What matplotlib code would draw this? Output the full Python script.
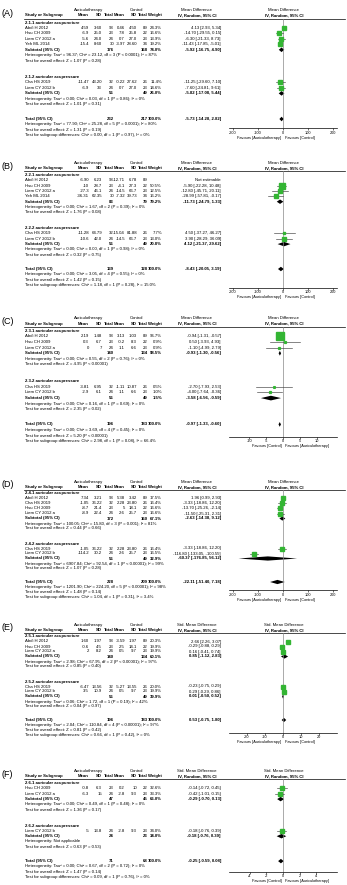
import numpy as np
import matplotlib.pyplot as plt

plt.rcParams['font.family'] = ['Liberation Sans', 'DejaVu Sans']

W, H = 347, 885
FS = 3.1
GREEN = '#33b533'
X0 = 25  # left edge of the study column

# ---------------- data ----------------
# study rows: name, mean1, sd1, n1, mean2, sd2, n2, weight, est, lo, hi
A_titles = ["2.1.1 auricular acupuncture", "2.1.2 auricular acupressure"]
A_g1 = [("Abdi H 2012", "4.59", "3.60", "93", "0.46", "4.50", "89", 24.3, 4.13, 2.93, 5.34),
        ("Hsu CH 2009", "-6.9", "25.0", "23", "7.8", "25.8", "22", 16.6, -14.70, -29.55, 0.15),
        ("Liem CY 2012 a", "-5.6", "24.0", "24", "0.7", "27.0", "23", 13.9, -6.30, -21.33, 8.73),
        ("Yeh ML 2014", "-15.4", "8.60", "30", "-3.97", "28.60", "34", 19.2, -11.43, -17.85, -5.01)]
A_g2 = [("Cha HS 2019", "-11.47", "43.20", "32", "-0.22", "27.62", "26", 11.4, -11.25, -29.60, 7.10),
        ("Liem CY 2012 b", "-6.9", "33", "24", "0.7", "27.0", "23", 14.6, -7.60, -24.81, 9.61)]
A_sub = [("176", "168", 74.0, -5.92, -16.75, 4.90), ("56", "49", 26.0, -5.82, -17.08, 5.44)]
A_tot = ("232", "217", 100.0, -5.73, -14.28, 2.82)
A_het = ["Heterogeneity: Tau² = 96.37; Chi² = 23.12, df = 3 (P < 0.0001); I² = 87%",
         "Heterogeneity: Tau² = 0.00; Chi² = 0.03, df = 1 (P = 0.86); I² = 0%",
         "Heterogeneity: Tau² = 77.90; Chi² = 25.28, df = 5 (P = 0.0001); I² = 80%"]
A_z = ["Test for overall effect: Z = 1.07 (P = 0.28)",
       "Test for overall effect: Z = 1.01 (P = 0.31)",
       "Test for overall effect: Z = 1.31 (P = 0.19)"]
A_diff = "Test for subgroup differences: Chi² = 0.00, df = 1 (P = 0.97), I² = 0%"

B_titles = ["2.2.1 auricular acupuncture", "2.2.2 auricular acupressure"]
B_g1 = [("Abdi H 2012", "-6.90", "6.23", "93", "-12.71", "6.78", "89", None, None, None, None),
        ("Hsu CH 2009", "-10", "28.7", "23", "-4.1", "27.3", "22", 50.5, -5.90, -22.28, 10.48),
        ("Liem CY 2012 a", "-27.3", "46.1", "24", "-14.5", "66.7", "23", 12.5, -12.80, -45.71, 20.11),
        ("Yeh ML 2014", "-36.31", "62.35", "30", "-7.32", "39.73", "34", 16.2, -28.99, -57.81, -0.17)]
B_g2 = [("Cha HS 2019", "-11.28", "64.79", "32", "-15.04", "81.88", "26", 7.7, 4.50, -37.27, 46.27),
        ("Liem CY 2012 b", "-10.6", "42.0", "24", "-14.5", "66.7", "23", 13.0, 3.90, -28.29, 36.09)]
B_sub = [("83", "79", 79.2, -11.73, -24.79, 1.33), ("56", "49", 20.8, 4.12, -21.37, 29.62)]
B_tot = ("139", "128", 100.0, -8.43, -20.05, 3.19)
B_het = ["Heterogeneity: Tau² = 0.00; Chi² = 1.67, df = 2 (P = 0.39); I² = 0%",
         "Heterogeneity: Tau² = 0.00; Chi² = 0.00, df = 1 (P = 0.98); I² = 0%",
         "Heterogeneity: Tau² = 0.00; Chi² = 3.05, df = 4 (P = 0.55); I² = 0%"]
B_z = ["Test for overall effect: Z = 1.76 (P = 0.08)",
       "Test for overall effect: Z = 0.32 (P = 0.75)",
       "Test for overall effect: Z = 1.42 (P = 0.15)"]
B_diff = "Test for subgroup differences: Chi² = 1.18, df = 1 (P = 0.28), I² = 15.0%"

C_titles = ["2.3.1 auricular acupuncture", "2.3.2 auricular acupressure"]
C_g1 = [("Abdi H 2012", "2.19", "1.48", "93", "3.13", "1.03", "89", 96.7, -0.94, -1.31, -0.57),
        ("Hsu CH 2009", "0.3", "6.7", "23", "-0.2", "8.3", "22", 0.9, 0.50, -3.93, 4.93),
        ("Liem CY 2012 a", "0", "7", "24", "1.1", "6.6", "23", 0.9, -1.10, -4.99, 2.79)]
C_g2 = [("Cha HS 2019", "-3.81", "6.95", "32", "-1.11", "10.87", "26", 0.5, -2.70, -7.93, 2.53),
        ("Liem CY 2012 b", "-2.9", "6.1", "24", "1.1", "6.6", "23", 1.0, -4.00, -7.64, -0.36)]
C_sub = [("140", "134", 98.5, -0.93, -1.30, -0.56), ("56", "49", 1.5, -3.58, -6.56, -0.59)]
C_tot = ("196", "183", 100.0, -0.97, -1.33, -0.60)
C_het = ["Heterogeneity: Tau² = 0.00; Chi² = 0.55, df = 2 (P = 0.76); I² = 0%",
         "Heterogeneity: Tau² = 0.00; Chi² = 0.16, df = 1 (P = 0.69); I² = 0%",
         "Heterogeneity: Tau² = 0.00; Chi² = 3.69, df = 4 (P = 0.45); I² = 0%"]
C_z = ["Test for overall effect: Z = 4.95 (P < 0.00001)",
       "Test for overall effect: Z = 2.35 (P = 0.02)",
       "Test for overall effect: Z = 5.20 (P < 0.00001)"]
C_diff = "Test for subgroup differences: Chi² = 2.98, df = 1 (P = 0.08), I² = 66.4%"

D_titles = ["2.4.1 auricular acupuncture", "2.4.2 auricular acupressure"]
D_g1 = [("Abdi H 2012", "7.34", "3.21", "93", "5.38", "3.42", "89", 17.5, 1.96, 0.99, 2.93),
        ("Cha HS 2019", "-1.05", "36.22", "32", "2.28", "23.80", "26", 16.4, -3.33, -18.86, 12.20),
        ("Hsu CH 2009", "-8.7", "21.4", "23", "5", "18.1", "22", 16.6, -13.70, -25.26, -2.14),
        ("Liem CY 2012 a", "-8.9", "22.4", "24", "2.6", "25.7", "23", 16.6, -11.50, -25.31, 2.31)]
D_g2 = [("Cha HS 2019", "-1.05", "36.22", "32", "2.28", "23.80", "26", 16.4, -3.33, -18.86, 12.20),
        ("Liem CY 2012 b", "-114.2", "30.2", "24", "2.6", "25.7", "23", 16.5, -116.80, -133.05, -100.55)]
D_sub = [("172", "160", 67.1, -2.63, -14.38, 9.12), ("56", "49", 32.9, -60.37, -176.85, 56.12)]
D_tot = ("228", "209", 100.0, -22.11, -51.40, 7.18)
D_het = ["Heterogeneity: Tau² = 100.05; Chi² = 15.80, df = 3 (P = 0.001); I² = 81%",
         "Heterogeneity: Tau² = 6907.84; Chi² = 92.54, df = 1 (P < 0.00001); I² = 99%",
         "Heterogeneity: Tau² = 1201.90; Chi² = 224.20, df = 5 (P < 0.00001); I² = 98%"]
D_z = ["Test for overall effect: Z = 0.44 (P = 0.66)",
       "Test for overall effect: Z = 1.07 (P = 0.28)",
       "Test for overall effect: Z = 1.48 (P = 0.14)"]
D_diff = "Test for subgroup differences: Chi² = 1.04, df = 1 (P = 0.31), I² = 3.4%"

E_titles = ["2.5.1 auricular acupuncture", "2.5.2 auricular acupressure"]
E_g1 = [("Abdi H 2012", "1.60", "1.97", "93", "-3.59", "1.97", "89", 20.3, 2.66, 2.26, 3.07),
        ("Hsu CH 2009", "-0.6", "4.5", "23", "2.5", "14.1", "22", 19.9, -0.29, -0.88, 0.29),
        ("Liem CY 2012 a", "2", "8.2", "24", "0.5", "9.7", "23", 19.9, 0.16, -0.41, 0.74)]
E_g2 = [("Cha HS 2019", "-6.47", "13.56", "32", "-5.27", "13.55", "26", 20.0, -0.23, -0.75, 0.29),
        ("Liem CY 2012 b", "3.5", "10.9", "24", "0.5", "9.7", "23", 19.9, 0.29, -0.29, 0.86)]
E_sub = [("140", "134", 60.1, 0.85, -1.12, 2.83), ("56", "49", 39.9, 0.01, -0.50, 0.52)]
E_tot = ("196", "183", 100.0, 0.53, -0.75, 1.80)
E_het = ["Heterogeneity: Tau² = 2.98; Chi² = 67.95, df = 2 (P < 0.00001); I² = 97%",
         "Heterogeneity: Tau² = 0.06; Chi² = 1.72, df = 1 (P = 0.19); I² = 42%",
         "Heterogeneity: Tau² = 2.04; Chi² = 110.84, df = 4 (P < 0.00001); I² = 97%"]
E_z = ["Test for overall effect: Z = 0.85 (P = 0.40)",
       "Test for overall effect: Z = 0.04 (P = 0.97)",
       "Test for overall effect: Z = 0.81 (P = 0.42)"]
E_diff = "Test for subgroup differences: Chi² = 0.66, df = 1 (P = 0.42), I² = 0%"

F_titles = ["2.6.1 auricular acupuncture", "2.6.2 auricular acupressure"]
F_g1 = [("Hsu CH 2009", "-0.8", "6.3", "23", "0.2", "10", "22", 32.6, -0.14, -0.72, 0.45),
        ("Liem CY 2012 a", "-6.3", "15", "24", "-2.8", "9.3", "23", 33.3, -0.42, -1.01, 0.15)]
F_g2 = [("Liem CY 2012 b", "-5", "13.8", "24", "-2.8", "9.3", "23", 34.0, -0.18, -0.76, 0.39)]
F_sub = [("47", "45", 66.0, -0.29, -0.70, 0.13), ("24", "23", 34.0, -0.18, -0.76, 0.39)]
F_tot = ("71", "68", 100.0, -0.25, -0.59, 0.08)
F_het = ["Heterogeneity: Tau² = 0.00; Chi² = 0.49, df = 1 (P = 0.48); I² = 0%",
         "Heterogeneity: Not applicable",
         "Heterogeneity: Tau² = 0.00; Chi² = 0.67, df = 2 (P = 0.72); I² = 0%"]
F_z = ["Test for overall effect: Z = 1.36 (P = 0.17)",
       "Test for overall effect: Z = 0.63 (P = 0.53)",
       "Test for overall effect: Z = 1.47 (P = 0.14)"]
F_diff = "Test for subgroup differences: Chi² = 0.09, df = 1 (P = 0.76), I² = 0%"

FAV_AC = ("Favours [Auriculotherapy]", "Favours [Control]")
FAV_CA = ("Favours [Control]", "Favours [Auriculotherapy]")

fig = plt.figure(figsize=(W / 100, H / 100), dpi=100)


def box(x0, x1, y0, step, r_top, r_bot):
    top = y0 + r_top * step
    bot = y0 + r_bot * step
    ax = fig.add_axes([x0 / W, 1 - bot / H, (x1 - x0) / W, (bot - top) / H])
    ax.set_ylim(r_bot, r_top)
    return ax


def ci_txt(e, lo, hi):
    if e is None:
        return "Not estimable"
    return f"{e:.2f} [{lo:.2f}, {hi:.2f}]"


def draw_panel(label, y0, step, titles, groups, subs, tot, het, zs, diff,
               head, lim, ticks, fav, axis_off):
    # row layout
    r = 2.3
    layout = []
    for g in groups:
        title_r = r
        st = [r + 1 + i for i in range(len(g))]
        sub_r = r + 1 + len(g)
        layout.append((title_r, st, sub_r))
        r = sub_r + 2 + 3
    tot_r = r - 3 + 2.7
    last_r = tot_r + 3
    axis_r = tot_r + axis_off

    ax = box(0, W, y0, step, -2.5, last_r + 1.5)
    ax.set_xlim(0, W)
    ax.axis('off')

    def t(x, y, s, ha='left', bold=False, size=FS):
        ax.text(x, y, s, ha=ha, va='center', fontsize=size,
                fontweight='bold' if bold else 'normal')

    ax.text(2, 0.6, label, ha='left', va='center', fontsize=6.5)
    cols = [89, 102, 114, 125, 137, 148, 162]
    t(89, 0, "Auriculotherapy", 'center')
    t(136, 0, "Control", 'center')
    t(197, 0, head, 'center')
    t(284, 0, head, 'center')
    t(X0, 1, "Study or Subgroup", bold=True)
    for x, s in zip(cols, ["Mean", "SD", "Total", "Mean", "SD", "Total", "Weight"]):
        t(x, 1, s, 'right', bold=True)
    t(197, 1, "IV, Random, 95% CI", 'center', bold=True)
    t(284, 1, "IV, Random, 95% CI", 'center', bold=True)
    ax.plot([X0 - 1, 345], [1.6, 1.6], color='black', lw=0.5)

    fx = box(229, 337, y0, step, 1.6, axis_r)
    fx.set_xlim(-lim, lim)
    fx.set_facecolor('none')
    for sp in ['top', 'left', 'right']:
        fx.spines[sp].set_visible(False)
    fx.spines['bottom'].set_linewidth(0.5)
    fx.set_yticks([])
    fx.set_xticks(ticks)
    fx.set_xticklabels([f"{v:g}" for v in ticks], fontsize=2.8)
    fx.tick_params(axis='x', length=1.2, width=0.4, pad=0.8)
    fx.axvline(0, color='#888888', lw=0.5)
    fx.annotate(fav[0], (-lim * 0.03, 0), xycoords=('data', 'axes fraction'),
                xytext=(0, -7), textcoords='offset points', ha='right', va='center', fontsize=2.8)
    fx.annotate(fav[1], (lim * 0.03, 0), xycoords=('data', 'axes fraction'),
                xytext=(0, -7), textcoords='offset points', ha='left', va='center', fontsize=2.8)

    def diamond(row, e, lo, hi):
        fx.fill([lo, e, hi, e], [row, row - 0.42, row, row + 0.42], color='black', lw=0)

    for gi, (g, (title_r, st, sub_r)) in enumerate(zip(groups, layout)):
        t(X0, title_r, titles[gi], bold=True)
        for row, rec in zip(st, g):
            name, m1, s1, n1, m2, s2, n2, w, e, lo, hi = rec
            t(X0, row, name)
            for x, s in zip(cols[:6], [m1, s1, n1, m2, s2, n2]):
                t(x, row, s, 'right')
            if w is not None:
                t(cols[6], row, f"{w:.1f}%", 'right')
            t(221, row, ci_txt(e, lo, hi), 'right')
            if e is not None:
                fx.plot([lo, hi], [row, row], color='#404040', lw=0.45)
                fx.plot(e, row, 's', color=GREEN, mec=GREEN,
                        ms=0.9 + 4.4 * np.sqrt(w / 100))
        n1, n2, w, e, lo, hi = subs[gi]
        t(X0, sub_r, "Subtotal (95% CI)", bold=True)
        t(cols[2], sub_r, n1, 'right', bold=True)
        t(cols[5], sub_r, n2, 'right', bold=True)
        t(cols[6], sub_r, f"{w:.1f}%", 'right', bold=True)
        t(221, sub_r, ci_txt(e, lo, hi), 'right', bold=True)
        diamond(sub_r, e, lo, hi)
        t(X0, sub_r + 1, het[gi])
        t(X0, sub_r + 2, zs[gi])

    n1, n2, w, e, lo, hi = tot
    t(X0, tot_r, "Total (95% CI)", bold=True)
    t(cols[2], tot_r, n1, 'right', bold=True)
    t(cols[5], tot_r, n2, 'right', bold=True)
    t(cols[6], tot_r, f"{w:.1f}%", 'right', bold=True)
    t(221, tot_r, ci_txt(e, lo, hi), 'right', bold=True)
    diamond(tot_r, e, lo, hi)
    t(X0, tot_r + 1, het[2])
    t(X0, tot_r + 2, zs[2])
    t(X0, tot_r + 3, diff)


MD = "Mean Difference"
SMD = "Std. Mean Difference"
draw_panel("(A)", 10, 5.45, A_titles, [A_g1, A_g2], A_sub, A_tot, A_het, A_z, A_diff,
           MD, 215, [-200, -100, 0, 100, 200], FAV_AC, 1.7)
draw_panel("(B)", 163, 5.3, B_titles, [B_g1, B_g2], B_sub, B_tot, B_het, B_z, B_diff,
           MD, 215, [-200, -100, 0, 100, 200], FAV_AC, 3.5)
draw_panel("(C)", 318, 5.6, C_titles, [C_g1, C_g2], C_sub, C_tot, C_het, C_z, C_diff,
           MD, 16, [-10, -5, 0, 5, 10], FAV_CA, 2.2)
draw_panel("(D)", 482, 5.0, D_titles, [D_g1, D_g2], D_sub, D_tot, D_het, D_z, D_diff,
           MD, 215, [-200, -100, 0, 100, 200], FAV_AC, 1.6)
draw_panel("(E)", 625, 5.0, E_titles, [E_g1, E_g2], E_sub, E_tot, E_het, E_z, E_diff,
           SMD, 30, [-20, -10, 0, 10, 20], FAV_AC, 2.5)
draw_panel("(F)", 771, 5.3, F_titles, [F_g1, F_g2], F_sub, F_tot, F_het, F_z, F_diff,
           SMD, 6.5, [-4, -2, 0, 2, 4], FAV_CA, 2.0)

fig.savefig("out.png", dpi=100)
